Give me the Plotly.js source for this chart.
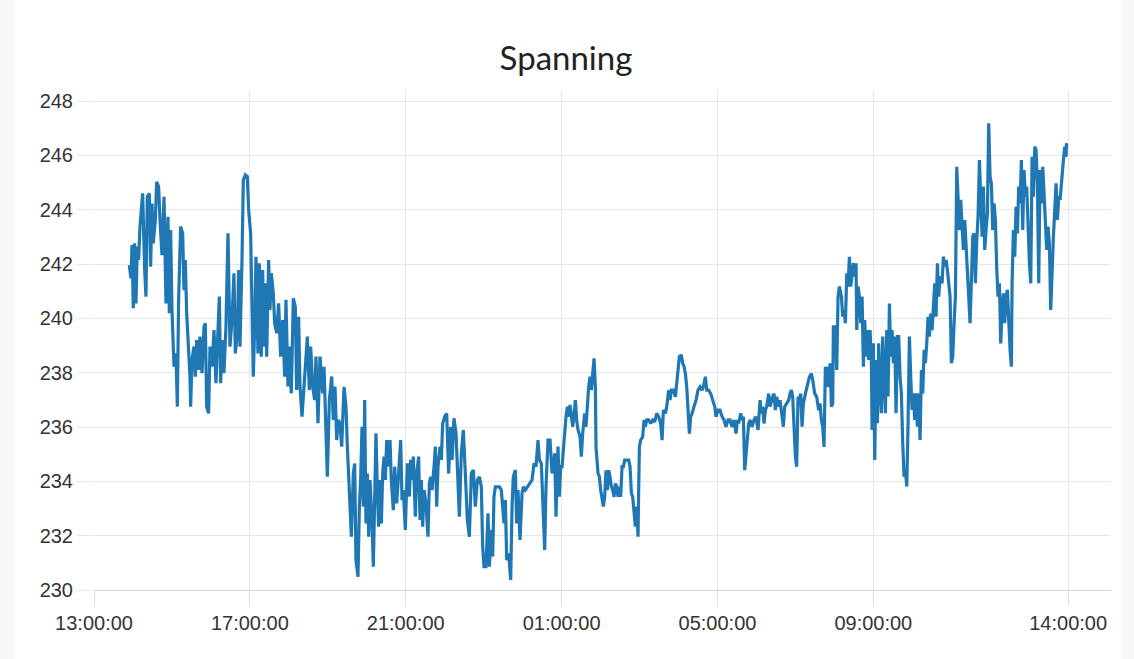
<!DOCTYPE html>
<html>
<head>
<meta charset="utf-8">
<script src="https://cdn.plot.ly/plotly-3.0.1.min.js"></script>
<style>
  html, body { margin: 0; padding: 0; background: #f8f8f6; width: 1134px; height: 659px; overflow: hidden; }
  #panel { position: absolute; left: 14px; top: 0; width: 1108px; height: 659px; background: #ffffff; }
  #chart { width: 1108px; height: 659px; }
</style>
</head>
<body>
<div id="panel"><div id="chart"></div></div>
<script>
// Chart title
const chartTitle = "Spanning";

// Start of the time axis (minutes below are counted from here)
const startTime = "2024-01-01T13:00:00Z";

// Minutes after 13:00 for each reading
const minutesSince1300 = [
  54.4, 56.9, 58.5, 60.5, 62.6, 64.6, 66.7, 68.7, 70.8, 74.9, 78.0, 80.0, 82.1, 85.2, 87.2, 89.3, 91.3, 94.4, 96.5, 99.5,
  101.6, 104.7, 107.8, 110.8, 113.9, 116.0, 118.0, 120.1, 123.2, 126.2, 128.3, 130.3, 133.4, 136.5, 138.6, 140.6, 142.7, 145.7, 147.8, 148.8,
  150.9, 154.0, 156.0, 158.1, 161.1, 163.2, 166.3, 169.4, 171.4, 173.5, 176.5, 178.6, 181.7, 184.8, 187.8, 189.9, 193.0, 195.0, 197.1, 200.1,
  203.2, 206.3, 209.4, 212.5, 215.5, 217.6, 220.7, 222.7, 224.8, 227.9, 229.9, 233.0, 236.1, 238.1, 241.2, 243.3, 245.3, 247.4, 249.4, 252.5,
  254.6, 257.6, 259.7, 261.7, 263.8, 265.9, 268.9, 271.0, 273.0, 276.1, 278.2, 281.3, 284.3, 287.4, 290.5, 293.6, 295.6, 298.7, 300.8, 303.8,
  306.9, 310.0, 312.0, 315.1, 317.2, 320.3, 323.3, 326.4, 328.5, 331.6, 333.6, 336.7, 339.8, 341.8, 344.9, 348.0,
  352.1, 354.2, 357.2, 359.3, 362.4, 366.0, 368.5, 371.1, 373.7, 376.2,
  378.8, 381.4, 385.0, 388.0, 390.1, 393.2, 396.3, 399.3, 401.4, 403.4, 406.5, 408.6, 410.6, 412.7, 414.7, 416.8, 418.8, 420.9, 423.0, 425.0,
  428.1, 430.1, 432.2, 434.2, 436.3, 438.3, 440.4, 442.5, 444.5, 446.6, 448.6, 450.7, 453.7, 455.8, 457.8, 460.9, 463.0, 466.1, 469.1, 472.2,
  474.3, 476.3, 479.4, 482.5, 485.6, 487.6, 489.7, 491.7, 494.8, 496.9, 499.9, 502.0, 504.0, 506.1, 508.2, 511.2, 514.3, 516.4, 518.4, 520.5,
  523.6, 525.6, 527.7, 529.7, 532.8, 534.8, 536.9, 540.0, 543.1, 546.1, 549.2, 551.3, 554.3, 557.4, 559.5, 562.6, 565.6, 568.7, 571.8, 574.9,
  578.0, 581.0, 584.1, 587.2, 590.3, 593.4, 596.4, 598.5, 600.5, 603.6, 606.7, 608.8, 611.8, 613.9, 615.9, 618.0, 621.1, 624.2, 627.2, 629.3,
  631.3, 633.4, 635.5, 638.5, 641.6, 643.7, 645.7, 648.8, 650.8, 652.9, 656.0, 659.1, 661.1, 664.2, 667.3, 671.4, 674.5, 677.5, 680.6, 683.7,
  685.8, 688.8, 691.9, 694.0, 696.0, 699.1, 702.2, 705.3, 707.3, 709.4, 711.4, 714.5, 716.6, 718.6, 720.7, 723.7, 726.8, 728.9, 730.9, 733.0,
  735.0, 737.1, 739.1, 741.2, 743.2, 745.3, 748.4, 750.4, 752.5, 755.6, 757.6, 759.7, 761.7,
  763.8, 765.9, 767.9, 770.0, 772.0, 773.0, 776.1, 778.2, 780.2, 782.3, 784.3, 786.4, 788.4, 790.5, 792.5, 794.6, 796.7, 798.7, 800.8, 802.8,
  804.9, 806.9, 809.0, 811.0, 813.1, 815.1, 817.2, 820.3, 823.3, 825.4, 827.5, 829.5, 831.6, 833.6, 835.7, 837.7, 838.7, 839.8, 841.8, 844.9,
  847.0, 849.0, 851.1, 854.1, 857.2, 860.3, 863.4, 866.5, 869.5, 872.6, 874.7, 876.7, 879.8, 881.9, 884.9, 887.0, 889.0, 892.1, 895.2, 897.3,
  899.3, 901.4, 904.4, 906.5, 908.6, 910.6, 912.7, 914.7, 916.8, 918.8, 920.9, 923.9, 927.0, 930.1, 933.2, 936.3, 938.3, 941.4, 943.5, 946.5,
  949.6, 952.7, 955.8, 957.8, 960.9, 964.0, 967.1, 970.1, 973.2, 976.3, 979.4, 982.5, 985.5, 988.6, 990.7, 992.7, 995.8, 997.9, 999.9, 1002.0,
  1004.0, 1006.1, 1008.1, 1010.2, 1013.3, 1016.3, 1019.4, 1022.5, 1025.6, 1027.6, 1029.7, 1031.7, 1033.8, 1035.8, 1038.9, 1041.0, 1043.0, 1045.1, 1047.1, 1049.2,
  1051.2, 1054.3, 1056.4, 1059.5, 1061.5, 1063.6, 1066.6, 1069.7, 1071.8, 1073.8, 1075.9, 1077.9, 1080.0, 1082.0, 1084.1, 1086.2, 1088.2, 1090.3, 1092.3, 1095.4,
  1098.5, 1101.6, 1104.6, 1106.7, 1109.8, 1112.8, 1115.9, 1118.0, 1120.0, 1122.1, 1124.1, 1126.2, 1128.2, 1130.3, 1132.4,
  1133.4, 1135.5, 1137.5, 1138.5, 1141.6, 1143.7, 1145.7, 1147.8, 1150.9, 1152.9, 1155.0, 1157.0, 1159.1, 1161.1, 1163.2, 1165.2, 1167.3, 1169.3, 1171.4, 1173.4,
  1174.5, 1176.5, 1178.6, 1180.6, 1182.7, 1184.7, 1186.8, 1188.8, 1190.9, 1192.9, 1195.0, 1197.1, 1198.1, 1200.1, 1202.2, 1204.2, 1206.3, 1208.3, 1210.4, 1212.4,
  1214.5, 1216.6, 1218.6, 1220.7, 1222.7, 1224.8, 1226.8, 1228.9, 1230.9, 1233.0, 1235.0, 1237.1, 1239.1, 1241.2, 1243.2, 1245.3, 1247.4, 1249.4, 1251.5, 1253.5,
  1255.6, 1257.6, 1259.7, 1261.7, 1263.8, 1265.8, 1267.9, 1269.9, 1272.0, 1274.1, 1276.1, 1278.2, 1280.2, 1282.3, 1284.3, 1286.4, 1288.4, 1290.5, 1292.5, 1294.6,
  1296.6, 1298.7, 1300.7, 1302.8, 1305.9, 1307.9, 1310.0, 1312.0, 1314.1, 1316.1, 1318.2, 1320.2, 1322.3, 1324.4, 1326.4, 1328.5, 1330.5, 1332.6, 1334.6, 1336.7,
  1338.7, 1340.8, 1342.8, 1344.9, 1346.9, 1349.0, 1351.0, 1353.1, 1355.1, 1357.2, 1359.3, 1361.3, 1363.4, 1365.4, 1367.5, 1369.5, 1371.6, 1373.6, 1375.7, 1377.7,
  1379.8, 1381.8, 1383.9, 1385.9, 1388.0, 1390.1, 1392.1, 1394.2, 1396.2, 1398.3, 1400.3, 1402.4, 1404.4, 1406.5, 1408.5, 1410.6, 1412.6, 1413.7, 1415.7, 1417.8,
  1419.8, 1421.9, 1423.9, 1426.0, 1428.0, 1430.1, 1432.1, 1434.2, 1436.2, 1438.3, 1440.4, 1442.4, 1444.5, 1446.5, 1448.6, 1450.6, 1452.7, 1454.7, 1456.8, 1458.8,
  1460.9, 1462.9, 1465.0, 1467.0, 1469.1, 1471.1, 1473.2, 1475.3, 1477.3, 1479.4, 1481.4, 1483.5, 1485.5, 1487.6, 1489.6, 1490.7, 1492.7, 1494.8, 1496.8, 1497.5
];

// Voltage readings (V)
const voltage = [
  241.96, 241.47, 242.70, 240.37, 242.76, 240.55, 242.64, 242.15, 243.38, 244.60, 241.78, 240.80, 244.48, 244.60, 241.90, 244.23, 242.76, 243.62, 245.03, 244.85,
  243.62, 242.33, 244.48, 240.55, 243.74, 240.19, 243.25, 240.31, 238.22, 238.71, 236.75, 240.68, 243.38, 243.13, 241.04, 242.15, 240.19, 238.96, 237.85, 236.75,
  238.47, 238.96, 237.85, 239.20, 238.10, 239.33, 237.98, 239.70, 239.82, 236.75, 236.50, 238.96, 238.22, 239.57, 237.61, 238.96, 240.80, 237.61, 239.20, 237.98,
  239.70, 243.13, 238.96, 239.94, 241.66, 238.71, 239.45, 241.78, 238.96, 242.15, 245.09, 245.28, 245.22, 243.99, 243.13, 240.43, 237.85, 239.70, 242.27, 238.71,
  242.03, 238.59, 241.78, 238.96, 241.29, 238.59, 242.15, 240.31, 241.66, 240.92, 239.82, 239.45, 240.55, 238.59, 239.94, 237.85, 240.68, 237.49, 238.96, 237.24,
  240.74, 240.43, 237.36, 240.06, 237.49, 236.38, 237.49, 238.59, 239.33, 237.36, 238.96, 237.49, 236.99, 238.59, 236.14, 238.59,
  237.24, 238.22, 235.28, 234.17, 237.00, 237.86, 236.26, 237.49, 235.52, 236.26,
  236.13, 235.28, 237.48, 236.75, 235.28, 233.44, 231.96, 234.29, 234.66, 231.10, 230.49, 233.07, 234.05, 236.01, 233.07, 236.99, 232.45, 234.29, 231.96, 234.05,
  232.58, 230.86, 234.05, 235.77, 233.68, 232.33, 234.05, 232.45, 234.29, 234.91, 234.05, 235.52, 234.54, 235.52, 234.05, 232.94, 234.54, 233.19, 234.29, 235.52,
  233.31, 233.68, 232.21, 234.66, 233.44, 234.79, 234.05, 234.91, 232.70, 234.29, 234.91, 232.58, 234.05, 232.33, 233.68, 233.19, 231.96, 233.93, 234.17, 233.68,
  234.54, 235.28, 233.07, 234.54, 235.28, 234.79, 236.13, 236.38, 236.50, 234.29, 236.01, 234.79, 236.32, 235.77, 234.54, 232.70, 235.03, 235.89, 234.29, 232.58,
  231.96, 234.29, 234.42, 233.07, 234.05, 234.17, 233.80, 231.59, 230.86, 230.86, 232.82, 230.86, 232.21, 231.23, 233.44, 233.80, 233.80, 233.80, 233.68, 233.07,
  232.45, 233.31, 231.10, 231.35, 230.37, 233.07, 234.17, 234.42, 232.45, 233.68, 231.84, 233.56, 233.80, 233.68, 233.80, 233.93, 234.05, 234.66, 234.54, 235.52,
  234.79, 234.66, 232.58, 231.47, 233.80, 235.52, 235.52, 234.29, 234.54, 235.03, 232.70, 235.28, 233.44, 234.54, 234.54, 235.52, 236.38, 236.75, 236.38, 236.81,
  236.26, 236.01, 236.38, 236.99, 236.26, 235.89, 235.64, 234.91, 235.77, 236.50, 236.01, 236.99, 237.48,
  237.85, 237.36, 237.97, 238.53, 237.48, 235.27, 234.29, 234.17, 233.68, 233.43, 233.07, 233.43, 234.41, 233.68, 234.41, 234.17, 233.80, 233.68, 233.43, 233.92,
  233.80, 233.43, 233.80, 233.43, 234.54, 234.54, 234.78, 234.78, 234.78, 234.54, 233.56, 233.43, 232.82, 232.33, 233.07, 231.96, 233.68, 235.27, 235.52, 235.64,
  236.26, 236.01, 236.26, 236.26, 236.13, 236.26, 236.19, 236.50, 236.38, 236.13, 235.52, 236.62, 236.50, 236.75, 237.36, 236.99, 237.36, 237.36, 237.11, 237.73,
  238.22, 238.59, 238.65, 238.34, 238.22, 237.97, 237.48, 236.75, 235.76, 236.38, 236.50, 236.75, 236.99, 237.36, 237.48, 237.36, 237.48, 237.85, 237.36, 237.36,
  237.23, 236.99, 236.75, 236.38, 236.62, 236.62, 236.38, 236.26, 236.01, 236.26, 236.26, 236.01, 236.26, 235.76, 236.26, 236.13, 236.50, 236.26, 236.38, 234.41,
  234.91, 235.64, 236.13, 236.26, 236.01, 236.26, 236.38, 235.89, 236.99, 236.50, 236.75, 236.13, 236.62, 236.75, 237.23, 236.75, 236.99, 237.11, 237.23, 236.62,
  237.11, 236.75, 236.99, 236.50, 236.01, 236.75, 236.87, 236.99, 237.23, 237.36, 237.11, 236.01, 234.91, 234.54, 237.11, 236.99, 237.23, 236.01, 236.87, 237.23,
  237.60, 237.85, 237.97, 237.73, 237.23, 237.11, 236.62, 236.87, 236.26, 236.01, 235.27, 238.22, 237.48, 238.22, 237.48,
  238.35, 236.75, 236.87, 239.69, 239.69, 238.10, 240.80, 241.17, 240.80, 240.06, 240.31, 239.82, 241.66, 241.17, 242.27, 241.17, 241.66, 242.03, 241.54, 242.03,
  239.57, 241.17, 240.80, 239.82, 240.80, 238.22, 239.94, 238.59, 239.57, 238.47, 239.57, 238.35, 235.89, 239.08, 234.79, 238.47, 236.14, 239.08, 237.49, 236.51,
  239.33, 237.85, 236.51, 239.57, 237.12, 240.55, 238.59, 239.57, 238.35, 239.33, 236.51, 239.33, 239.33, 237.85, 237.24, 235.40, 234.17, 234.42, 233.81, 236.14,
  239.33, 237.85, 236.63, 237.24, 236.26, 237.24, 236.01, 237.24, 235.52, 238.10, 237.24, 238.84, 238.35, 239.08, 240.06, 239.33, 240.18, 239.57, 240.55, 241.29,
  240.06, 242.03, 240.80, 241.54, 241.29, 242.27, 241.91, 242.15, 241.78, 241.17, 240.80, 238.35, 238.59, 239.82, 240.80, 245.58, 244.48, 243.25, 244.36, 243.62,
  242.52, 243.62, 242.52, 241.78, 240.80, 239.82, 241.29, 243.01, 243.13, 241.29, 242.88, 243.74, 245.83, 244.23, 243.01, 244.85, 242.52, 243.25, 243.87, 247.18,
  245.22, 244.97, 243.25, 244.23, 243.62, 241.78, 240.80, 241.29, 239.08, 240.31, 240.92, 239.82, 240.80, 241.05, 239.69, 238.84, 238.22, 241.29, 243.25, 242.27,
  244.11, 243.13, 244.85, 244.23, 245.83, 243.25, 245.46, 244.48, 244.85, 243.01, 242.03, 241.29, 245.95, 244.48, 246.32, 246.20, 244.97, 241.29, 245.46, 244.23,
  245.58, 244.60, 243.62, 242.52, 243.38, 242.76, 240.31, 242.03, 243.01, 243.99, 244.97, 243.62, 244.48, 244.36, 244.97, 245.46, 245.83, 246.32, 245.95, 246.45
];

// X tick positions and labels
const xTickTimes = ["2024-01-01 13:00:00", "2024-01-01 17:00:00", "2024-01-01 21:00:00", "2024-01-02 01:00:00", "2024-01-02 05:00:00", "2024-01-02 09:00:00", "2024-01-02 14:00:00"];
const xTickLabels = ["13:00:00", "17:00:00", "21:00:00", "01:00:00", "05:00:00", "09:00:00", "14:00:00"];
const yTickValues = [230, 232, 234, 236, 238, 240, 242, 244, 246, 248];

const base = Date.parse(startTime);
const times = minutesSince1300.map(m => new Date(base + m * 60000).toISOString().replace('T', ' ').slice(0, 19));

const trace = {
  x: times,
  y: voltage,
  type: 'scatter',
  mode: 'lines',
  line: { color: '#1f77b4', width: 3.2 },
  hoverinfo: 'skip'
};

const layout = {
  width: 1108,
  height: 659,
  margin: { l: 80, r: 11, t: 91, b: 69 },
  paper_bgcolor: '#ffffff',
  plot_bgcolor: '#ffffff',
  showlegend: false,
  title: {
    text: chartTitle,
    x: 552 / 1108, xanchor: 'center', xref: 'container',
    y: 1 - 58 / 659, yanchor: 'middle', yref: 'container',
    font: { family: 'Lato, "Open Sans", sans-serif', size: 33, color: '#222222' }
  },
  xaxis: {
    type: 'date',
    range: ['2024-01-01 13:00:00', '2024-01-02 15:06:00'],
    tickmode: 'array',
    tickvals: xTickTimes,
    ticktext: xTickLabels,
    showgrid: true,
    gridcolor: '#e6e6e6',
    gridwidth: 1,
    ticks: 'outside',
    ticklen: 15,
    tickcolor: '#e0e0e0',
    tickwidth: 1,
    showline: true,
    linecolor: '#d6d6d6',
    linewidth: 1,
    zeroline: false,
    tickfont: { family: '"Liberation Sans", Arial, sans-serif', size: 20, color: '#333333' },
    fixedrange: true
  },
  yaxis: {
    range: [230, 248.37],
    tickmode: 'array',
    tickvals: yTickValues,
    showgrid: true,
    gridcolor: '#e6e6e6',
    gridwidth: 1,
    ticks: 'outside',
    ticklen: 16,
    tickcolor: '#e6e6e6',
    tickwidth: 1,
    showline: false,
    zeroline: false,
    tickfont: { family: '"Liberation Sans", Arial, sans-serif', size: 20, color: '#333333' },
    fixedrange: true
  }
};

Plotly.newPlot('chart', [trace], layout, { staticPlot: true, displayModeBar: false });
</script>
</body>
</html>
